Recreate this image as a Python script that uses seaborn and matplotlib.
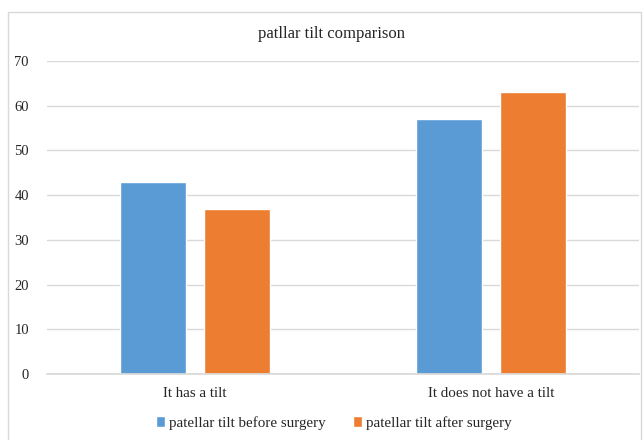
import matplotlib
matplotlib.use("Agg")
import matplotlib.pyplot as plt
import seaborn as sns
import pandas as pd
from matplotlib.patches import Rectangle

categories = ["It has a tilt", "It does not have a tilt"]
before_surgery = [43, 57]
after_surgery = [37, 63]
series_names = ["patellar tilt before surgery", "patellar tilt after surgery"]
y_ticks = [0, 10, 20, 30, 40, 50, 60, 70]

df = pd.DataFrame({
    "category": categories * 2,
    "value": before_surgery + after_surgery,
    "series": [series_names[0]] * 2 + [series_names[1]] * 2,
})

sns.set_theme(style="white")
plt.rcParams["font.family"] = ["Liberation Serif", "DejaVu Serif"]

W, H = 644, 440
fig = plt.figure(figsize=(W / 100, H / 100), dpi=100)
ax = fig.add_axes([47 / W, (H - 374) / H, 592 / W, 313 / H])

# light frame around the whole chart area
fig.patches.append(Rectangle((8 / W, -0.01), (641 - 8) / W, (H - 12) / H + 0.01,
                             transform=fig.transFigure, fill=False,
                             edgecolor="#d9d9d9", linewidth=1.0))

sns.barplot(data=df, x="category", y="value", hue="series",
            palette=["#5B9BD5", "#ED7D31"], width=0.5676, gap=0.214,
            saturation=1, ax=ax, legend=True)

ax.set_ylim(0, 70)
ax.set_yticks(y_ticks)
ax.set_xlim(-0.5, 1.5)
ax.yaxis.grid(True, color="#d9d9d9", linewidth=1.0)
ax.set_axisbelow(True)
for s in ["top", "right", "left"]:
    ax.spines[s].set_visible(False)
ax.spines["bottom"].set_color("#d9d9d9")
ax.tick_params(axis="both", length=0, colors="#262626")
ax.tick_params(axis="y", pad=13, labelsize=10.5)
ax.tick_params(axis="x", pad=9, labelsize=10.8)
ax.set_xlabel("")
ax.set_ylabel("")

fig.text(331 / W, 1 - 34 / H, "patllar tilt comparison", ha="center",
         va="center", fontsize=12, color="#262626")

handles, labels = ax.get_legend_handles_labels()
ax.legend(handles, labels, loc="center", bbox_to_anchor=(334 / W, 1 - 423 / H),
          bbox_transform=fig.transFigure, ncol=2, frameon=False, fontsize=10.8,
          handlelength=0.6, handleheight=0.75, handletextpad=0.3, columnspacing=1.8,
          labelcolor="#262626")

fig.savefig("out.png", dpi=100, facecolor="white")
